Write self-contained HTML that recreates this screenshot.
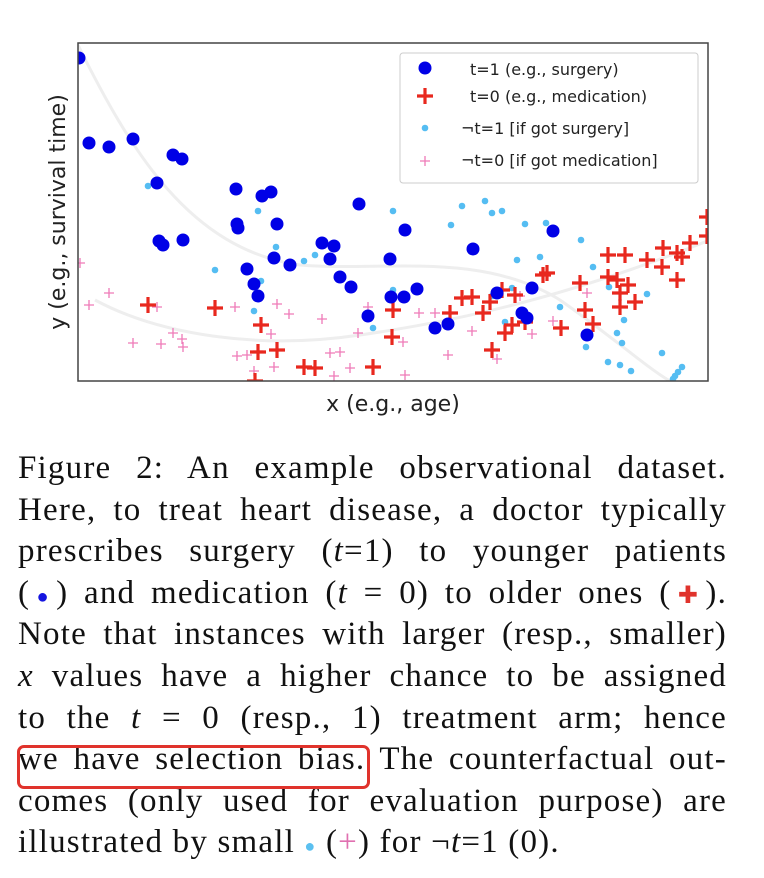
<!DOCTYPE html>
<html><head><meta charset="utf-8">
<style>
body{margin:0;background:#fff;width:764px;height:878px;overflow:hidden;position:relative;font-family:"Liberation Serif",serif;}
#chart{position:absolute;left:0;top:0;}
.cap{position:absolute;left:18px;top:448px;width:709px;font-size:33px;letter-spacing:1.2px;line-height:41.6px;color:#111;}
.ln{text-align:justify;text-align-last:justify;white-space:nowrap;height:41.6px;}
.ln.last{text-align-last:left;}
i{font-style:italic;}
.hl{position:absolute;left:17px;top:745px;width:353px;height:44px;border:3px solid #e0332c;border-radius:7px;box-sizing:border-box;}
</style></head><body>
<svg id="chart" width="764" height="430"></svg>
<div class="cap">
<div class="ln">Figure 2: An example observational dataset.</div>
<div class="ln">Here, to treat heart disease, a doctor typically</div>
<div class="ln">prescribes surgery (<i>t</i>=1) to younger patients</div>
<div class="ln">(<span style="color:#1515e0;font-size:20px">●</span>) and medication (<i>t</i> = 0) to older ones (<span style="color:#e0332c;font-family:'DejaVu Sans';font-size:24px">✚</span>).</div>
<div class="ln">Note that instances with larger (resp., smaller)</div>
<div class="ln"><i>x</i> values have a higher chance to be assigned</div>
<div class="ln">to the <i>t</i> = 0 (resp., 1) treatment arm; hence</div>
<div class="ln">we have selection bias. The counterfactual out-</div>
<div class="ln">comes (only used for evaluation purpose) are</div>
<div class="ln last">illustrated by small <span style="color:#5bc0f0;font-size:18px">●</span> (<span style="color:#e070b0">+</span>) for ¬<i>t</i>=1 (0).</div>
</div>
<div class="hl"></div>
<script>
const t1 = [[1,323],[11,238],[31,234],[55,242],[95,226],[104,222],[79,198],[158,192],[184,185],[193,189],[281,177],[159,157],[160,153],[199,157],[81,140],[85,136],[105,141],[327,151],[244,138],[256,135],[196,123],[212,116],[252,122],[312,122],[169,112],[262,104],[273,94],[176,97],[180,85],[313,84],[326,84],[339,92],[290,65],[475,150],[395,132],[454,93],[357,53],[370,57],[419,88],[444,68],[449,63],[509,46]];
const c1 = [[70,195],[180,170],[315,170],[198,134],[137,111],[226,120],[237,126],[183,100],[315,91],[176,70],[295,53],[384,175],[407,180],[414,168],[424,170],[373,156],[447,157],[468,158],[503,141],[394,132],[439,121],[462,124],[515,114],[531,94],[569,87],[434,93],[414,85],[482,74],[546,61],[427,59],[539,48],[544,38],[508,34],[584,28],[530,19],[542,16],[553,10],[604,14],[600,9],[597,5],[595,2]];
const t0 = [[70,76],[137,73],[183,56],[180,29],[199,31],[177,0],[226,14],[237,13],[295,14],[315,71],[314,44],[372,68],[384,83],[394,84],[405,68],[412,79],[424,91],[437,86],[447,59],[427,48],[434,56],[414,31],[465,106],[469,108],[502,98],[507,71],[515,57],[483,53],[530,126],[547,126],[569,121],[585,133],[599,128],[604,124],[612,138],[584,114],[599,101],[530,104],[539,101],[550,96],[542,88],[557,79],[542,74],[629,164],[629,145]];
const c0 = [[2,118],[31,88],[11,76],[79,74],[95,48],[104,42],[55,38],[83,37],[105,34],[157,74],[199,77],[211,67],[244,62],[193,47],[280,48],[290,74],[159,25],[169,26],[180,30],[176,10],[196,14],[252,28],[262,29],[272,13],[256,5],[327,6],[325,39],[341,68],[357,68],[370,26],[394,50],[419,22],[442,85],[454,47],[475,60],[509,88]];
const pW=630,pH=338,L=78,T=43;
const xs=v=>L+v/pW*pW, ys=v=>T+pH-v/pH*pH;
const svg=document.getElementById('chart');const NS='http://www.w3.org/2000/svg';
function mk(tag,attrs,parent){const e=document.createElementNS(NS,tag);for(const k in attrs)e.setAttribute(k,attrs[k]);(parent||svg).appendChild(e);return e;}
const g=mk('g',{'clip-path':'url(#cp)'});
const cp=mk('clipPath',{id:'cp'});mk('rect',{x:L,y:T,width:pW,height:pH},cp);
mk('path',{d:'M78,45 C130,150 190,250 300,265 C380,272 480,250 560,300 C610,335 650,370 670,381',fill:'none',stroke:'#eee',"stroke-width":3},g);
mk('path',{d:'M95,300 C160,335 260,350 360,335 C450,322 560,300 710,240',fill:'none',stroke:'#eee',"stroke-width":3},g);
function plus(x,y,s,w,col,name){const p=mk('path',{d:`M${x-s},${y}H${x+s}M${x},${y-s}V${y+s}`,stroke:col,'stroke-width':w,fill:'none'},g);

}
c0.forEach(d=>plus(xs(d[0]),ys(d[1]),5,1.3,'#ef7ab8','counterfactual-t0-point'));
c1.forEach(d=>{const c=mk('circle',{cx:xs(d[0]),cy:ys(d[1]),r:3.3,fill:'#55bdf2'},g);

});
t0.forEach(d=>plus(xs(d[0]),ys(d[1]),8,3.2,'#e8281e','t0-point'));
t1.forEach(d=>{const c=mk('circle',{cx:xs(d[0]),cy:ys(d[1]),r:6.5,fill:'#0000e6'},g);

});
const fr=mk('rect',{x:L,y:T,width:pW,height:pH,fill:'none',stroke:'#444','stroke-width':1.5});


const lg=mk('g',{});


mk('rect',{x:400,y:53,width:298,height:130,rx:3,fill:'#fff','fill-opacity':0.9,stroke:'#ccc'},lg);
mk('circle',{cx:425,cy:68,r:6.5,fill:'#0000e6'},lg);
mk('path',{d:'M417,96H433M425,88V104',stroke:'#e8281e','stroke-width':3.2},lg);
mk('circle',{cx:425,cy:128,r:3.3,fill:'#55bdf2'},lg);
mk('path',{d:'M420,161H430M425,156V166',stroke:'#ef7ab8','stroke-width':1.3},lg);
const labs=[['t=1 (e.g., surgery)',470,75],['t=0 (e.g., medication)',470,102],['¬t=1 [if got surgery]',461,134],['¬t=0 [if got medication]',461,166]];
labs.forEach(l=>{const t=mk('text',{x:l[1],y:l[2],'font-family':'DejaVu Sans, sans-serif','font-size':16,fill:'#222'},lg);t.textContent=l[0];

});
const xl=mk('text',{x:393,y:411,'text-anchor':'middle','font-family':'DejaVu Sans, sans-serif','font-size':22,fill:'#222'});xl.textContent='x (e.g., age)';


const yl=mk('text',{x:0,y:0,transform:'translate(65,212) rotate(-90)','text-anchor':'middle','font-family':'DejaVu Sans, sans-serif','font-size':22,fill:'#222'});yl.textContent='y (e.g., survival time)';


</script>
</body></html>
